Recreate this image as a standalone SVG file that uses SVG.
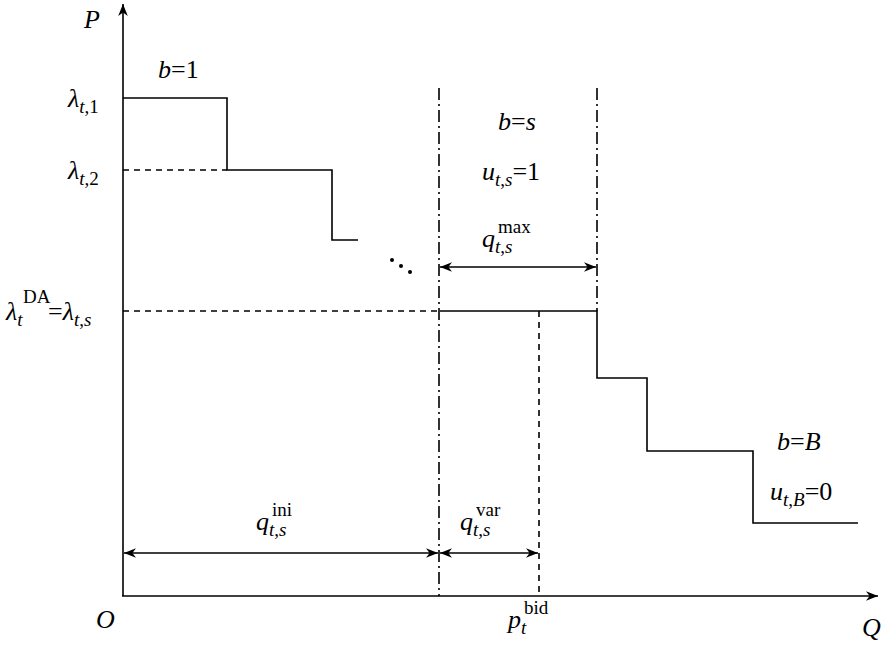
<svg xmlns="http://www.w3.org/2000/svg" width="891" height="650" viewBox="0 0 891 650">
<style>
text,tspan{font-family:"Liberation Serif","DejaVu Serif","Times New Roman",serif;font-size:26px;fill:#000}
.i{font-style:italic}
.s{font-size:19px}
line,polyline{stroke:#000;stroke-width:1.6;fill:none}
.d{stroke-dasharray:6,5}
.dd{stroke-dasharray:12,4,2,4}
</style>
<defs>
<marker id="a" viewBox="0 0 10 10" refX="10" refY="5" markerWidth="12" markerHeight="12" markerUnits="userSpaceOnUse" orient="auto-start-reverse"><path d="M0,1 L10,5 L0,9 L3,5z" fill="#000"/></marker>
</defs>
<g id="axes">
<line x1="123" y1="596" x2="123" y2="4" marker-end="url(#a)"/>
<line x1="122" y1="596" x2="878" y2="596" marker-end="url(#a)"/>
</g>
<g id="connectors">
<polyline points="123,98 227,98 227,170 332,170 332,240 358,240"/>
<polyline points="440,311 597,311 597,378 647,378 647,451 753,451 753,523 858,523"/>
<line class="d" x1="123" y1="170" x2="227" y2="170"/>
<line class="d" x1="123" y1="311" x2="440" y2="311"/>
<line class="d" x1="539" y1="311" x2="539" y2="596"/>
<line class="dd" x1="439" y1="88" x2="439" y2="596"/>
<line class="dd" x1="597" y1="88" x2="597" y2="311"/>
<line x1="440" y1="267" x2="596" y2="267" marker-start="url(#a)" marker-end="url(#a)"/>
<line x1="124" y1="553" x2="438" y2="553" marker-start="url(#a)" marker-end="url(#a)"/>
<line x1="440" y1="553" x2="538" y2="553" marker-start="url(#a)" marker-end="url(#a)"/>
<circle cx="392" cy="260" r="2"/><circle cx="401" cy="266" r="2"/><circle cx="410" cy="272" r="2"/>
</g>
<g id="labels">
<text class="i" x="84" y="28">P</text>
<text class="i" x="862" y="636">Q</text>
<text class="i" x="96" y="628">O</text>
<text x="158" y="78"><tspan class="i">b</tspan>=1</text>
<text x="68" y="107"><tspan class="i">λ</tspan><tspan class="i s" dy="6">t</tspan><tspan class="s">,1</tspan></text>
<text x="68" y="179"><tspan class="i">λ</tspan><tspan class="i s" dy="6">t</tspan><tspan class="s">,2</tspan></text>
<text x="6" y="320"><tspan class="i">λ</tspan><tspan class="i s" y="326">t</tspan><tspan class="s" x="23" y="303">DA</tspan><tspan x="48" y="320">=</tspan><tspan class="i">λ</tspan><tspan class="i s" y="326">t</tspan><tspan class="s">,</tspan><tspan class="i s">s</tspan></text>
<text x="498" y="130"><tspan class="i">b</tspan>=<tspan class="i">s</tspan></text>
<text x="482" y="180"><tspan class="i">u</tspan><tspan class="i s" dy="6">t</tspan><tspan class="s">,</tspan><tspan class="i s">s</tspan><tspan dy="-6">=1</tspan></text>
<text x="482" y="247"><tspan class="i">q</tspan><tspan class="i s" y="253">t</tspan><tspan class="s">,</tspan><tspan class="i s">s</tspan><tspan class="s" x="498" y="233">max</tspan></text>
<text x="777" y="450"><tspan class="i">b</tspan>=<tspan class="i">B</tspan></text>
<text x="770" y="500"><tspan class="i">u</tspan><tspan class="i s" dy="6">t</tspan><tspan class="s">,</tspan><tspan class="i s">B</tspan><tspan dy="-6">=0</tspan></text>
<text x="256" y="530"><tspan class="i">q</tspan><tspan class="i s" y="536">t</tspan><tspan class="s">,</tspan><tspan class="i s">s</tspan><tspan class="s" x="272" y="516">ini</tspan></text>
<text x="460" y="530"><tspan class="i">q</tspan><tspan class="i s" y="536">t</tspan><tspan class="s">,</tspan><tspan class="i s">s</tspan><tspan class="s" x="476" y="516">var</tspan></text>
<text x="508" y="628"><tspan class="i">p</tspan><tspan class="i s" y="634">t</tspan><tspan class="s" x="524" y="614">bid</tspan></text>
</g>
</svg>
